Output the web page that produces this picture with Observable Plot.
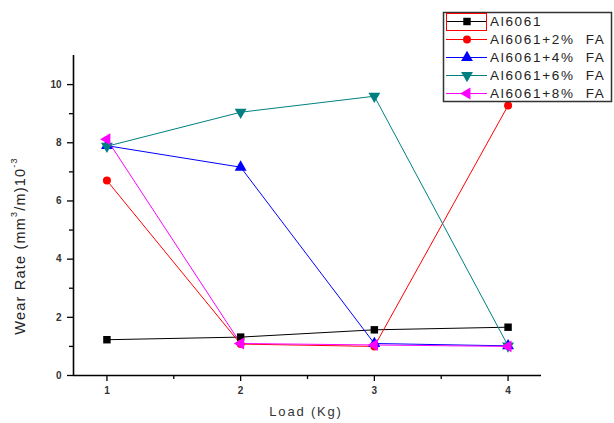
<!DOCTYPE html>
<html>
<head>
<meta charset="utf-8">
<script src="https://cdn.jsdelivr.net/npm/d3@7"></script>
<script src="https://cdn.jsdelivr.net/npm/@observablehq/plot@0.6"></script>
<style>
  html, body { margin: 0; padding: 0; background: #fff; }
  #chart { position: relative; width: 614px; height: 423px; }
  #chart svg { display: block; }
  #legend { position: absolute; left: 0; top: 0; }
</style>
</head>
<body>
<div id="chart"></div>
<script>
// Load steps (Kg)
const loads = [1, 2, 3, 4];

// Wear rate, (mm³/m)·10⁻³, per alloy
const seriesNames = ["Al6061", "Al6061+2%  FA", "Al6061+4%  FA", "Al6061+6%  FA", "Al6061+8%  FA"];
const base   = [1.23, 1.32, 1.57, 1.66];
const fa2    = [6.70, 1.08, 1.00, 9.28];
const fa4    = [7.90, 7.16, 1.10, 1.02];
const fa6    = [7.88, 9.05, 9.60, 1.02];
const fa8    = [8.12, 1.10, 1.05, 1.00];
const seriesValues = [base, fa2, fa4, fa6, fa8];
const seriesColors = ["#000000", "#ff0000", "#0000ff", "#008080", "#ff00ff"];

// Axis ticks
const xTicks = [1, 2, 3, 4];
const xMinor = [1.5, 2.5, 3.5];
const yTicks = [0, 2, 4, 6, 8, 10];
const yMinor = [1, 3, 5, 7, 9];
const xDomain = [0.75, 4.25];
const yDomain = [0, 11];

// Marker shapes: square, circle, triangle up, triangle down, triangle left
const triDown = {
  draw(ctx, size) {
    const s = Math.sqrt(size / 0.433);
    const h = s * Math.sqrt(3) / 2;
    ctx.moveTo(-s / 2, -h / 3);
    ctx.lineTo(s / 2, -h / 3);
    ctx.lineTo(0, 2 * h / 3);
    ctx.closePath();
  }
};
const triLeft = {
  draw(ctx, size) {
    const s = Math.sqrt(size / 0.433);
    const h = s * Math.sqrt(3) / 2;
    ctx.moveTo(-2 * h / 3, 0);
    ctx.lineTo(h / 3, -s / 2);
    ctx.lineTo(h / 3, s / 2);
    ctx.closePath();
  }
};
const symbols = ["square", "circle", "triangle", triDown, triLeft];
const radii = [4.2, 4, 4.4, 4.4, 4.4];

const rows = seriesNames.map((name, i) =>
  loads.map((x, j) => ({series: name, x, y: seriesValues[i][j]}))
);

const font = "Liberation Sans, Arial, sans-serif";

const marks = [
  Plot.ruleY([yDomain[0]], {stroke: "#000", strokeWidth: 1.6}),
  Plot.ruleX([xDomain[0]], {stroke: "#000", strokeWidth: 1.6}),
  Plot.axisX(xTicks, {tickSize: 6, tickPadding: 5, tickFormat: d3.format("d"), fontSize: 10, fontWeight: "bold", fill: "#333", stroke: "#000", strokeWidth: 1.3, label: null}),
  Plot.axisX(xMinor, {tickSize: 4, text: null, stroke: "#000", strokeWidth: 1.3, label: null}),
  Plot.axisY(yTicks, {tickSize: 6, tickPadding: 6, tickFormat: d3.format("d"), fontSize: 10, fontWeight: "bold", fill: "#333", stroke: "#000", strokeWidth: 1.3, label: null}),
  Plot.axisY(yMinor, {tickSize: 4, text: null, stroke: "#000", strokeWidth: 1.3, label: null})
];
rows.forEach((data, i) => {
  marks.push(Plot.line(data, {x: "x", y: "y", stroke: seriesColors[i], strokeWidth: 1}));
});
rows.forEach((data, i) => {
  marks.push(Plot.dot(data, {x: "x", y: "y", symbol: symbols[i], r: radii[i], fill: seriesColors[i], stroke: "none"}));
});

const chart = Plot.plot({
  width: 614,
  height: 423,
  marginLeft: 73,
  marginRight: 73,
  marginTop: 55,
  marginBottom: 48,
  style: {fontFamily: font, background: "#fff"},
  x: {domain: xDomain, axis: null},
  y: {domain: yDomain, axis: null},
  marks
});

const host = document.getElementById("chart");
host.appendChild(chart);

// Axis titles
const svg = d3.select(chart);
svg.append("text")
  .attr("x", 306).attr("y", 413)
  .attr("text-anchor", "middle")
  .attr("dominant-baseline", "middle")
  .attr("font-family", font)
  .attr("font-size", 13)
  .attr("letter-spacing", 1.8)
  .attr("fill", "#333")
  .text("Load (Kg)");

const yTitle = svg.append("text")
  .attr("transform", "translate(21,246) rotate(-90)")
  .attr("text-anchor", "middle")
  .attr("dominant-baseline", "middle")
  .attr("font-family", font)
  .attr("font-size", 14.5)
  .attr("letter-spacing", 1.2)
  .attr("fill", "#222");
yTitle.append("tspan").text("Wear Rate (mm");
yTitle.append("tspan").attr("font-size", 9).attr("dy", -6).text("3");
yTitle.append("tspan").attr("dy", 6).text("/m)10");
yTitle.append("tspan").attr("font-size", 9).attr("dy", -6).text("-3");

// Legend box over the upper right corner
const leg = d3.select(host).append("svg")
  .attr("id", "legend")
  .attr("width", 614).attr("height", 110)
  .style("pointer-events", "none");
leg.append("rect")
  .attr("x", 443.5).attr("y", 12.5).attr("width", 168).attr("height", 89)
  .attr("fill", "#fff").attr("stroke", "#333").attr("stroke-width", 1.5);
seriesNames.forEach((name, i) => {
  const cy = 21.5 + i * 18;
  const g = leg.append("g");
  g.append("line")
    .attr("x1", 446).attr("x2", 487).attr("y1", cy).attr("y2", cy)
    .attr("stroke", seriesColors[i]).attr("stroke-width", 1);
  const sym = typeof symbols[i] === "string"
    ? {square: d3.symbolSquare, circle: d3.symbolCircle, triangle: d3.symbolTriangle}[symbols[i]]
    : symbols[i];
  g.append("path")
    .attr("transform", `translate(467,${cy})`)
    .attr("d", d3.symbol(sym, Math.PI * radii[i] * radii[i])())
    .attr("fill", seriesColors[i]);
  g.append("text")
    .attr("x", 490).attr("y", cy + 0.5)
    .attr("dominant-baseline", "middle")
    .attr("font-family", font)
    .attr("font-size", 13.5)
    .attr("letter-spacing", 1.7)
    .attr("fill", "#222")
    .style("white-space", "pre")
    .text(name);
});
// selection outline around the first legend sample
leg.append("rect")
  .attr("x", 446.5).attr("y", 13.5).attr("width", 40).attr("height", 17)
  .attr("fill", "none").attr("stroke", "#ff0000").attr("stroke-width", 1);
</script>
</body>
</html>
